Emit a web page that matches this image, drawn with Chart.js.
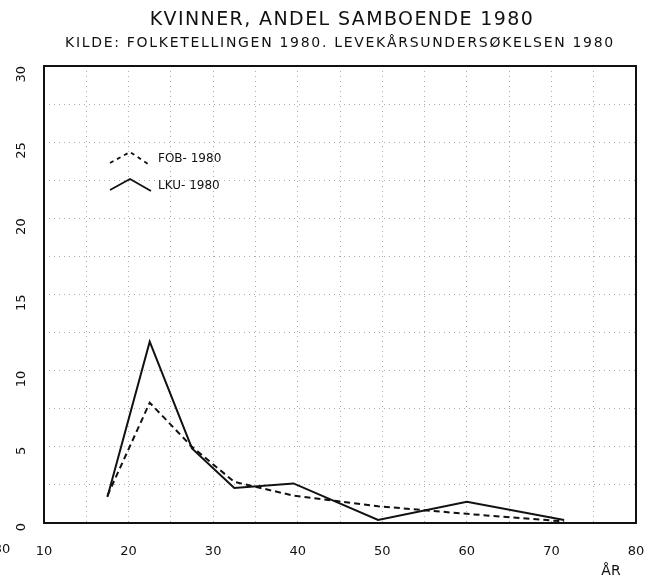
<!DOCTYPE html>
<html>
<head>
<meta charset="utf-8">
<script src="https://cdn.jsdelivr.net/npm/chart.js@4/dist/chart.umd.min.js"></script>
<style>
  body { margin: 0; background: #fff; }
  canvas { display: block; }
</style>
</head>
<body>
<canvas id="myChart" width="661" height="582"></canvas>
<script>
/*  data  */
const ages = [17.5, 22.5, 27.5, 32.5, 39.5, 49.5, 60, 71.5];
const fob = [1.8, 7.9, 5.0, 2.7, 1.8, 1.1, 0.6, 0.1];
const lku = [1.7, 11.9, 4.9, 2.3, 2.6, 0.2, 1.4, 0.2];
const seriesLabels = ['FOB- 1980', 'LKU- 1980'];
const xTicks = [10, 20, 30, 40, 50, 60, 70, 80];
const yTicks = [0, 5, 10, 15, 20, 25, 30];
const title = 'KVINNER, ANDEL SAMBOENDE 1980';
const subtitle = 'KILDE: FOLKETELLINGEN 1980. LEVEKÅRSUNDERSØKELSEN 1980';

const font = '"DejaVu Sans", sans-serif';

function pts(ys) {
  return ys.map((y, i) => ({ x: ages[i], y: y }));
}

/* titles, frame, legend and loose texts (plotter style, wide spacing) */
const extras = {
  id: 'extras',
  afterDraw(chart) {
    const c = chart.ctx;
    const a = chart.chartArea;
    c.save();
    c.fillStyle = '#111';
    c.textBaseline = 'middle';
    c.textAlign = 'center';
    c.letterSpacing = '1.4px';
    c.font = '19px ' + font;
    c.fillText(title, 342, 20);
    c.letterSpacing = '1.7px';
    c.font = '14px ' + font;
    c.fillText(subtitle, 340, 43);
    c.letterSpacing = '0px';

    c.strokeStyle = '#111';
    c.lineWidth = 2;
    c.strokeRect(a.left, a.top, a.right - a.left, a.bottom - a.top);

    // legend inside the plot
    c.lineWidth = 1.8;
    c.setLineDash([4, 4]);
    c.beginPath();
    c.moveTo(110, 163); c.lineTo(130, 152); c.lineTo(148, 164);
    c.stroke();
    c.setLineDash([]);
    c.beginPath();
    c.moveTo(110, 190); c.lineTo(130, 179); c.lineTo(151, 191);
    c.stroke();
    c.font = '12px ' + font;
    c.textAlign = 'left';
    c.fillText(seriesLabels[0], 158, 159);
    c.fillText(seriesLabels[1], 158, 186);

    c.font = '14px ' + font;
    c.textAlign = 'center';
    c.fillText('ÅR', 611, 571);
    c.font = '13px ' + font;
    c.fillText('30', 2, 550);
    c.restore();
  }
};

new Chart(document.getElementById('myChart'), {
  type: 'line',
  data: {
    datasets: [{
      label: seriesLabels[0],
      data: pts(fob),
      borderColor: '#111',
      borderWidth: 2,
      borderDash: [6, 4],
      pointRadius: 0,
      tension: 0,
      fill: false
    }, {
      label: seriesLabels[1],
      data: pts(lku),
      borderColor: '#111',
      borderWidth: 2,
      pointRadius: 0,
      tension: 0,
      fill: false
    }]
  },
  options: {
    responsive: false,
    animation: false,
    layout: { padding: { top: 66, right: 25 } },
    plugins: {
      legend: { display: false },
      tooltip: { enabled: false },
      title: { display: false },
      subtitle: { display: false }
    },
    scales: {
      x: {
        type: 'linear',
        min: 10,
        max: 80,
        afterFit(s) {
          s.height = 59;
          s.paddingLeft = 0;
          s.paddingRight = 0;
        },
        afterBuildTicks(s) {
          s.ticks = [];
          for (let v = 10; v <= 80; v += 5) s.ticks.push({ value: v });
        },
        ticks: {
          color: '#111',
          font: { family: font, size: 13 },
          padding: 21,
          maxRotation: 0,
          autoSkip: false,
          callback: v => xTicks.includes(v) ? String(v) : ''
        },
        grid: { color: '#aaa', lineWidth: 1, drawTicks: false },
        border: { display: false, dash: [1, 4] }
      },
      y: {
        min: 0,
        max: 30,
        afterFit(s) { s.width = 44; },
        afterBuildTicks(s) {
          s.ticks = [];
          for (let v = 0; v <= 30; v += 2.5) s.ticks.push({ value: v });
        },
        ticks: {
          color: '#111',
          font: { family: font, size: 13 },
          padding: 22,
          minRotation: 90,
          maxRotation: 90,
          autoSkip: false,
          callback: v => yTicks.includes(v) ? String(v) : ''
        },
        grid: { color: '#aaa', lineWidth: 1, drawTicks: false },
        border: { display: false, dash: [1, 4] }
      }
    }
  },
  plugins: [extras]
});
</script>
</body>
</html>
